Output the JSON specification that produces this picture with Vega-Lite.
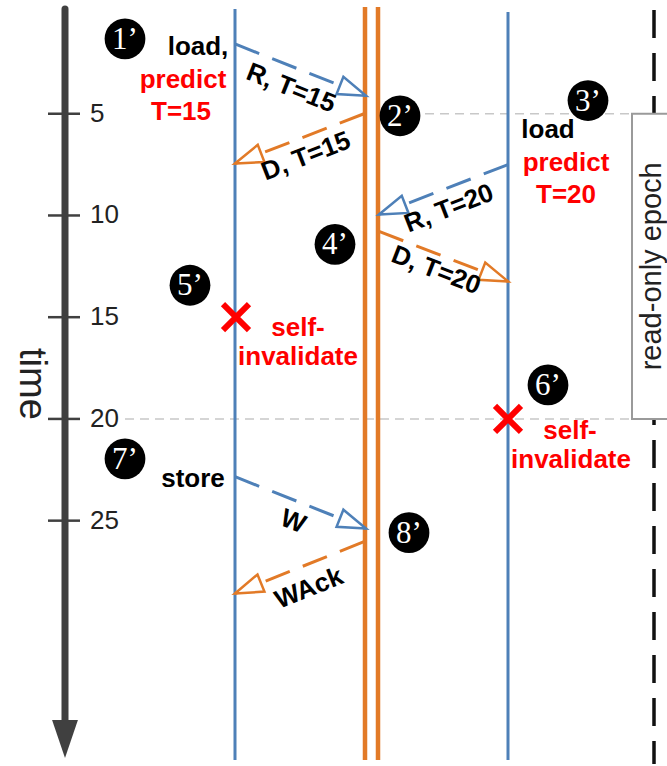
{
  "$schema": "https://vega.github.io/schema/vega-lite/v6.json",
  "width": 667,
  "height": 766,
  "autosize": {"type": "fit", "contains": "padding"},
  "padding": 0,
  "background": "white",
  "config": {"view": {"stroke": null}, "text": {"font": "Liberation Sans"}},
  "datasets": {
    "guides": [{"x": 380, "x2": 632, "t": 5}, {"x": 125, "x2": 632, "t": 20}],
    "epoch": [{"x": 654, "t": -0.1, "t2": 36.96}],
    "box": [{"x": 632, "x2": 690, "t": 5, "t2": 20}],
    "lanes": [
      {"x": 235, "t": -0.15, "t2": 36.76, "kind": "blue"},
      {"x": 365, "t": -0.25, "t2": 36.76, "kind": "orange"},
      {"x": 378, "t": -0.25, "t2": 36.76, "kind": "orange"},
      {"x": 508, "t": 0, "t2": 36.76, "kind": "blue"}
    ],
    "axisline": [{"x": 65, "t": -0.15, "t2": 35.2}],
    "axishead": [{"x": 65, "t": 36.67}],
    "ticks": [
      {"x": 48, "x2": 80, "t": 5}, {"x": 48, "x2": 80, "t": 10}, {"x": 48, "x2": 80, "t": 15},
      {"x": 48, "x2": 80, "t": 20}, {"x": 48, "x2": 80, "t": 25}
    ],
    "ticklabels": [
      {"x": 90, "t": 5, "label": "5"}, {"x": 90, "t": 10, "label": "10"}, {"x": 90, "t": 15, "label": "15"},
      {"x": 90, "t": 20, "label": "20"}, {"x": 90, "t": 25, "label": "25"}
    ],
    "messages": [
      {"x": 235, "t": 1.57, "x2": 366, "t2": 4.12, "kind": "blue", "label": "R, T=15", "lx": 291, "lt": 3.75},
      {"x": 364, "t": 5.0, "x2": 235, "t2": 7.45, "kind": "orange", "label": "D, T=15", "lx": 306, "lt": 7.1},
      {"x": 508, "t": 7.5, "x2": 379, "t2": 9.95, "kind": "blue", "label": "R, T=20", "lx": 449, "lt": 9.66},
      {"x": 379, "t": 10.78, "x2": 508, "t2": 13.24, "kind": "orange", "label": "D, T=20", "lx": 436, "lt": 12.7},
      {"x": 235, "t": 22.84, "x2": 366, "t2": 25.39, "kind": "blue", "label": "W", "lx": 293, "lt": 25.05},
      {"x": 364, "t": 26.03, "x2": 235, "t2": 28.58, "kind": "orange", "label": "WAck", "lx": 309, "lt": 28.33}
    ],
    "crosses": [{"x": 236, "t": 15.0}, {"x": 508, "t": 20.0}],
    "notes": [
      {"x": 198, "t": 1.72, "text": "load,", "kind": "black"},
      {"x": 183, "t": 3.33, "text": "predict", "kind": "red"},
      {"x": 181, "t": 4.9, "text": "T=15", "kind": "red"},
      {"x": 548, "t": 5.78, "text": "load", "kind": "black"},
      {"x": 566, "t": 7.4, "text": "predict", "kind": "red"},
      {"x": 566, "t": 8.97, "text": "T=20", "kind": "red"},
      {"x": 298, "t": 15.55, "text": "self-", "kind": "red"},
      {"x": 298, "t": 16.98, "text": "invalidate", "kind": "red"},
      {"x": 570, "t": 20.6, "text": "self-", "kind": "red"},
      {"x": 571, "t": 22.03, "text": "invalidate", "kind": "red"},
      {"x": 193, "t": 22.94, "text": "store", "kind": "black"}
    ],
    "steps": [
      {"n": "1’", "x": 125, "t": 1.32}, {"n": "2’", "x": 400, "t": 5.1},
      {"n": "3’", "x": 588, "t": 4.35}, {"n": "4’", "x": 335, "t": 11.42},
      {"n": "5’", "x": 190, "t": 13.43}, {"n": "6’", "x": 548, "t": 18.33},
      {"n": "7’", "x": 125, "t": 21.96}, {"n": "8’", "x": 409, "t": 25.59}
    ],
    "timecap": [{"x": 31, "t": 18.28, "text": "time"}],
    "epochcap": [{"x": 652, "t": 12.5, "text": "read-only epoch"}]
  },
  "encoding": {
    "x": {"field": "x", "type": "quantitative", "scale": {"domain": [0, 667], "nice": false, "zero": false}, "axis": null},
    "y": {"field": "t", "type": "quantitative", "scale": {"domain": [-0.59, 36.96], "nice": false, "zero": false, "reverse": true}, "axis": null}
  },
  "layer": [
    {"data": {"name": "guides"}, "mark": {"type": "rule", "stroke": "#c8c8c8", "strokeWidth": 1.5, "strokeDash": [9, 6]},
     "encoding": {"x2": {"field": "x2"}}},
    {"data": {"name": "epoch"}, "mark": {"type": "rule", "stroke": "#111111", "strokeWidth": 3.5, "strokeDash": [28, 15]},
     "encoding": {"y2": {"field": "t2"}}},
    {"data": {"name": "box"}, "mark": {"type": "rect", "fill": "white", "stroke": "#9a9a9a", "strokeWidth": 2, "clip": true},
     "encoding": {"x2": {"field": "x2"}, "y2": {"field": "t2"}}},
    {"data": {"name": "lanes"}, "mark": {"type": "rule"},
     "encoding": {
       "y2": {"field": "t2"},
       "stroke": {"field": "kind", "type": "nominal", "scale": {"domain": ["blue", "orange"], "range": ["#4e80b8", "#e27a27"]}, "legend": null},
       "strokeWidth": {"field": "kind", "type": "ordinal", "scale": {"domain": ["blue", "orange"], "range": [3, 4.5]}, "legend": null}
     }},
    {"data": {"name": "axisline"}, "mark": {"type": "rule", "stroke": "#404040", "strokeWidth": 7, "strokeCap": "round"},
     "encoding": {"y2": {"field": "t2"}}},
    {"data": {"name": "axishead"}, "mark": {"type": "point", "shape": "M0,0L0.34,1L-0.34,1Z", "size": 5776, "filled": true, "fill": "#404040", "strokeWidth": 0, "opacity": 1, "angle": 180}},
    {"data": {"name": "ticks"}, "mark": {"type": "rule", "stroke": "#404040", "strokeWidth": 2.5},
     "encoding": {"x2": {"field": "x2"}}},
    {"data": {"name": "ticklabels"}, "mark": {"type": "text", "align": "left", "baseline": "middle", "fontSize": 26, "fill": "#222222"},
     "encoding": {"text": {"field": "label"}}},
    {"data": {"name": "messages"}, "mark": {"type": "rule", "strokeWidth": 3, "strokeDash": [26, 14]},
     "encoding": {
       "x2": {"field": "x2"}, "y2": {"field": "t2"},
       "stroke": {"field": "kind", "type": "nominal", "scale": {"domain": ["blue", "orange"], "range": ["#4e80b8", "#e27a27"]}, "legend": null}
     }},
    {"data": {"name": "messages"},
     "transform": [{"calculate": "atan2(datum.x2 - datum.x, -(datum.t2 - datum.t) * 20.4) * 180 / PI", "as": "ha"}],
     "mark": {"type": "point", "shape": "M0,0L0.33,1L-0.33,1Z", "size": 3136, "filled": true, "fill": "white", "strokeWidth": 2.5, "opacity": 1},
     "encoding": {
       "x": {"field": "x2", "type": "quantitative", "scale": {"domain": [0, 667], "nice": false, "zero": false}, "axis": null},
       "y": {"field": "t2", "type": "quantitative", "scale": {"domain": [-0.59, 36.96], "nice": false, "zero": false, "reverse": true}, "axis": null},
       "stroke": {"field": "kind", "type": "nominal", "scale": {"domain": ["blue", "orange"], "range": ["#4e80b8", "#e27a27"]}, "legend": null},
       "angle": {"field": "ha", "type": "quantitative", "scale": null}
     }},
    {"data": {"name": "messages"},
     "transform": [{"calculate": "atan((datum.t2 - datum.t) * 20.4 / (datum.x2 - datum.x)) * 180 / PI", "as": "ta"}],
     "mark": {"type": "text", "fontSize": 26, "fontWeight": "bold", "fill": "#000000", "align": "center", "baseline": "middle"},
     "encoding": {
       "x": {"field": "lx", "type": "quantitative", "scale": {"domain": [0, 667], "nice": false, "zero": false}, "axis": null},
       "y": {"field": "lt", "type": "quantitative", "scale": {"domain": [-0.59, 36.96], "nice": false, "zero": false, "reverse": true}, "axis": null},
       "text": {"field": "label"},
       "angle": {"field": "ta", "type": "quantitative", "scale": null}
     }},
    {"data": {"name": "crosses"}, "mark": {"type": "point", "shape": "M-1,-1L1,1M1,-1L-1,1", "size": 676, "filled": false, "stroke": "#ff0000", "strokeWidth": 6, "opacity": 1}},
    {"data": {"name": "notes"}, "mark": {"type": "text", "fontSize": 26, "fontWeight": "bold", "align": "center", "baseline": "middle"},
     "encoding": {
       "text": {"field": "text"},
       "fill": {"field": "kind", "type": "nominal", "scale": {"domain": ["black", "red"], "range": ["#000000", "#ff0000"]}, "legend": null}
     }},
    {"data": {"name": "steps"}, "mark": {"type": "point", "shape": "circle", "size": 1662, "filled": true, "fill": "#000000", "strokeWidth": 0, "opacity": 1}},
    {"data": {"name": "steps"}, "mark": {"type": "text", "font": "Liberation Serif", "fontSize": 31, "fill": "#ffffff", "align": "center", "baseline": "middle", "dy": 1},
     "encoding": {"text": {"field": "n"}}},
    {"data": {"name": "timecap"}, "mark": {"type": "text", "fontSize": 38, "fill": "#222222", "align": "center", "baseline": "middle", "angle": 90},
     "encoding": {"text": {"field": "text"}}},
    {"data": {"name": "epochcap"}, "mark": {"type": "text", "fontSize": 29, "fill": "#222222", "align": "center", "baseline": "middle", "angle": 270},
     "encoding": {"text": {"field": "text"}}}
  ]
}
